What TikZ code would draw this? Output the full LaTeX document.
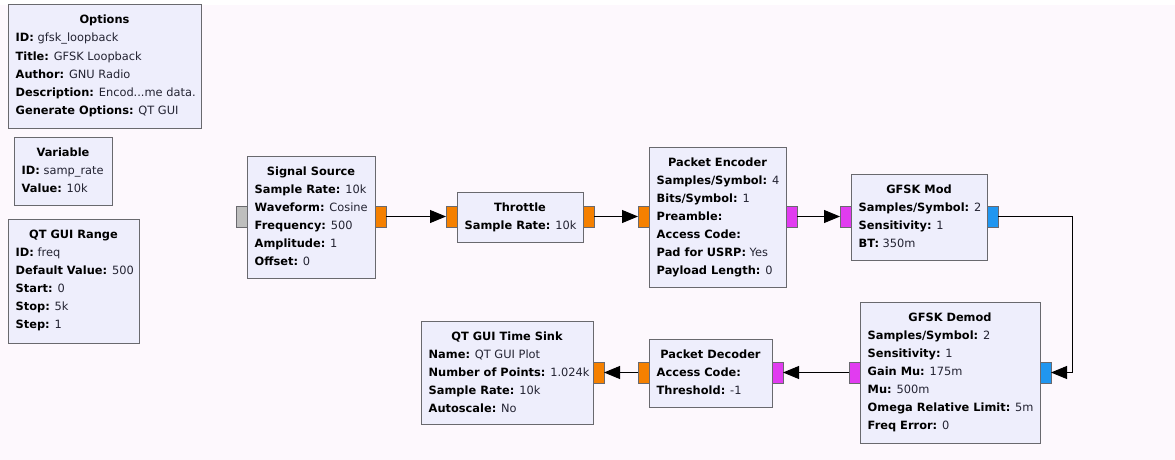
\documentclass[tikz,border=0pt]{standalone}
\usepackage{fontspec}
\setmainfont{DejaVu Sans}
\usetikzlibrary{calc,arrows.meta}
\definecolor{bgpink}{RGB}{253,248,253}
\definecolor{boxfill}{RGB}{238,238,252}
\definecolor{boxline}{RGB}{105,105,110}
\definecolor{portorange}{RGB}{245,128,0}
\definecolor{portmag}{RGB}{225,60,240}
\definecolor{portblue}{RGB}{32,150,240}
\definecolor{portgray}{RGB}{190,190,190}
\definecolor{valtxt}{RGB}{35,35,50}
\tikzset{
  block/.style={draw=boxline, fill=boxfill, line width=1pt, inner sep=0pt, outer sep=0pt, anchor=north west},
  titletxt/.style={inner sep=0pt, font=\fontsize{11.4}{13}\selectfont\bfseries, text=black},
  fieldtxt/.style={inner sep=0pt, font=\fontsize{11.4}{13}\selectfont, text=valtxt},
  port/.style={draw=boxline, line width=0.8pt, minimum width=11pt, minimum height=21pt, inner sep=0pt, outer sep=0pt},
  conn/.style={draw=black, line width=0.9pt, -{Triangle[length=16pt,width=13pt]}},
}
\newcommand\blk[7]{%
  \node[block, minimum width=#4pt, minimum height=#5pt] (#1) at (#2,#3) {};
  \node[titletxt, anchor=base] (#1-t) at ($(#1.north)+(0,19)$) {#6};
  \foreach \fl [count=\i] in {#7} {%
    \node[fieldtxt, anchor=base west] (#1-\i) at ($(#1.north west)+(7.5,{19+18*\i})$) {\fl};
  }%
}
\newcommand\kv[2]{\textbf{\color{black}#1} #2}
\begin{document}
\begin{tikzpicture}[x=1pt,y=-1pt]
\useasboundingbox (0,0) rectangle (1175,460);
\fill[bgpink] (0,5) rectangle (1175,460);

\blk{opt}{8}{5}{193}{123}{Options}{{\kv{ID:}{gfsk\_loopback}},{\kv{Title:}{GFSK Loopback}},{\kv{Author:}{GNU Radio}},{\kv{Description:}{Encod...me data.}},{\kv{Generate Options:}{QT GUI}}}
\blk{var}{14}{137}{98}{68}{Variable}{{\kv{ID:}{samp\_rate}},{\kv{Value:}{10k}}}
\blk{rng}{8}{219}{131}{124}{QT GUI Range}{{\kv{ID:}{freq}},{\kv{Default Value:}{500}},{\kv{Start:}{0}},{\kv{Stop:}{5k}},{\kv{Step:}{1}}}
\blk{src}{247}{156}{128}{122}{Signal Source}{{\kv{Sample Rate:}{10k}},{\kv{Waveform:}{Cosine}},{\kv{Frequency:}{500}},{\kv{Amplitude:}{1}},{\kv{Offset:}{0}}}
\blk{thr}{457}{192}{126}{50}{Throttle}{{\kv{Sample Rate:}{10k}}}
\blk{penc}{649}{147}{137}{140}{Packet Encoder}{{\kv{Samples/Symbol:}{4}},{\kv{Bits/Symbol:}{1}},{\kv{Preamble:}{}},{\kv{Access Code:}{}},{\kv{Pad for USRP:}{Yes}},{\kv{Payload Length:}{0}}}
\blk{mod}{851}{174}{136}{86}{GFSK Mod}{{\kv{Samples/Symbol:}{2}},{\kv{Sensitivity:}{1}},{\kv{BT:}{350m}}}
\blk{demod}{860}{302}{180}{141}{GFSK Demod}{{\kv{Samples/Symbol:}{2}},{\kv{Sensitivity:}{1}},{\kv{Gain Mu:}{175m}},{\kv{Mu:}{500m}},{\kv{Omega Relative Limit:}{5m}},{\kv{Freq Error:}{0}}}
\blk{pdec}{649}{339}{123}{68}{Packet Decoder}{{\kv{Access Code:}{}},{\kv{Threshold:}{-1}}}
\blk{sink}{421}{321}{172}{103}{QT GUI Time Sink}{{\kv{Name:}{QT GUI Plot}},{\kv{Number of Points:}{1.024k}},{\kv{Sample Rate:}{10k}},{\kv{Autoscale:}{No}}}

% ports
\node[port, fill=portgray]   (srcin)    at (241.5,216.5) {};
\node[port, fill=portorange] (srcout)   at (380.5,216.5) {};
\node[port, fill=portorange] (thrin)    at (451.5,216.5) {};
\node[port, fill=portorange] (throut)   at (588.5,216.5) {};
\node[port, fill=portorange] (pencin)   at (643.5,216.5) {};
\node[port, fill=portmag]    (pencout)  at (791.5,216.5) {};
\node[port, fill=portmag]    (modin)    at (845.5,216.5) {};
\node[port, fill=portblue]   (modout)   at (992.5,216.5) {};
\node[port, fill=portblue]   (demodout) at (1045.5,372.5) {};
\node[port, fill=portmag]    (demodin)  at (854.5,372.5) {};
\node[port, fill=portmag]    (pdecout)  at (777.5,372.5) {};
\node[port, fill=portorange] (pdecin)   at (643.5,372.5) {};
\node[port, fill=portorange] (sinkin)   at (598.5,372.5) {};
\coordinate (c1) at (1072,216.5);
\coordinate (c2) at (1072,372.5);

% connectors
\draw[conn] (srcout.east) -- (thrin.west);
\draw[conn] (throut.east) -- (pencin.west);
\draw[conn] (pencout.east) -- (modin.west);
\draw[conn] (modout.east) -- (c1) -- (c2) -- (demodout.east);
\draw[conn] (demodin.west) -- (pdecout.east);
\draw[conn] (pdecin.west) -- (sinkin.east);
\end{tikzpicture}
\end{document}
